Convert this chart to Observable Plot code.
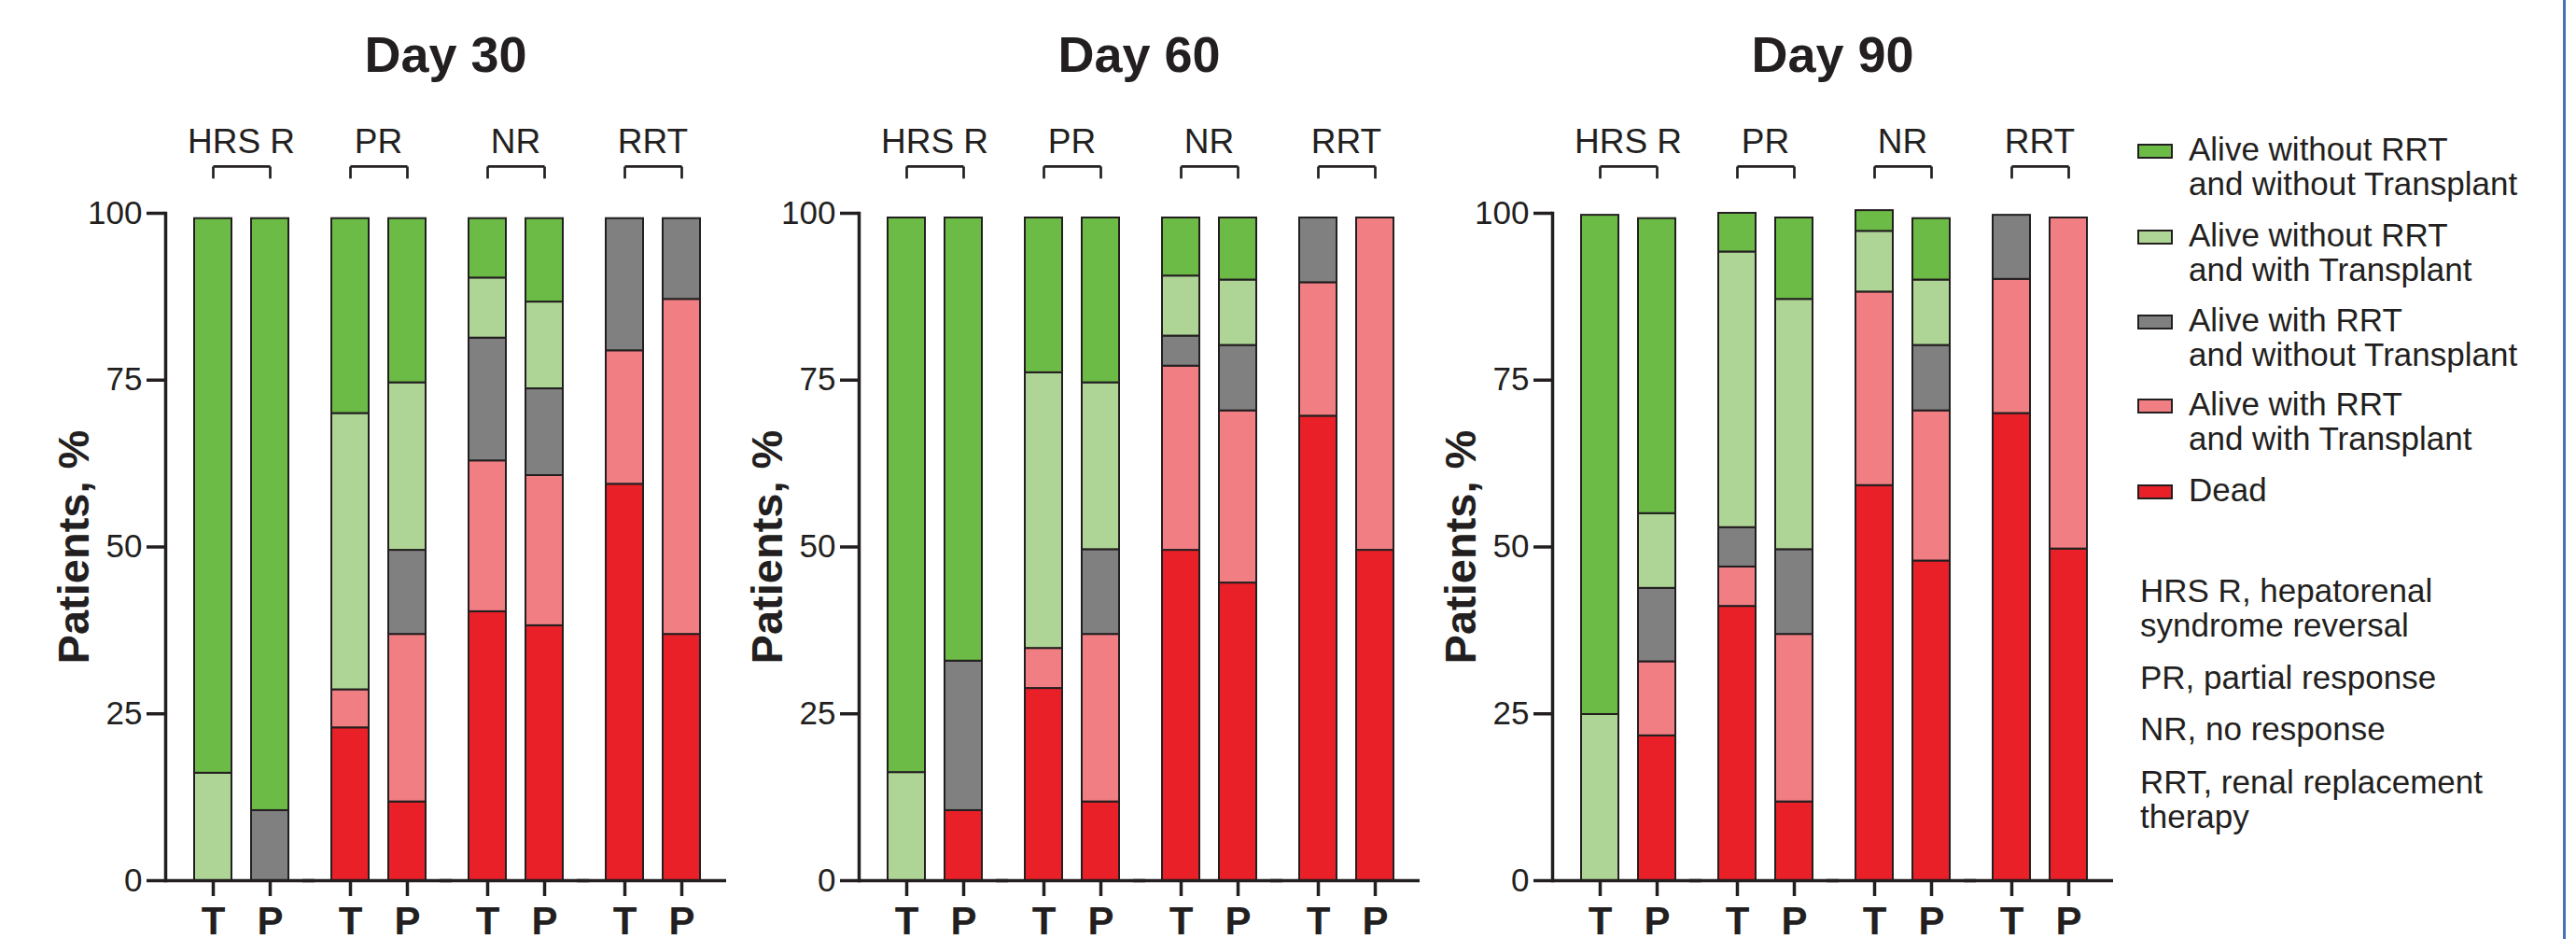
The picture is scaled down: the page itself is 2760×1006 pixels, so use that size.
<!DOCTYPE html>
<html><head><meta charset="utf-8">
<script src="https://cdn.jsdelivr.net/npm/d3@7"></script>
<script src="https://cdn.jsdelivr.net/npm/@observablehq/plot@0.6"></script>
<style>
html,body{margin:0;padding:0;background:#fff;}
body{width:2760px;height:1006px;position:relative;overflow:hidden;font-family:"Liberation Sans",Arial,sans-serif;color:#231f20;}
.panel{position:absolute;top:0;width:780px;}
.title{margin-left:177px;width:601px;height:116px;line-height:116px;font-weight:bold;font-size:54px;text-align:center;}
.panel svg{display:block;overflow:visible;}
[aria-label="y-axis label"] text{font-size:47px;font-weight:bold;}
[aria-label="x-axis tick label"] text{font-weight:bold;}
.lg{position:absolute;font-size:35px;line-height:37px;white-space:nowrap;}
.sw{position:absolute;left:2290px;width:38px;height:16px;box-sizing:border-box;border:2px solid #231f20;}
.note{position:absolute;left:2293px;font-size:35px;line-height:37px;white-space:nowrap;}
.edge{position:absolute;left:2746px;top:0;width:3px;height:1006px;background:#4a72b8;}
</style>
</head><body>
<div id="p30" class="panel" style="left:0px"><div class="title">Day 30</div></div>
<div id="p60" class="panel" style="left:743px"><div class="title">Day 60</div></div>
<div id="p90" class="panel" style="left:1486px"><div class="title">Day 90</div></div>
<div id="legend"></div>
<div class="edge"></div>
<script>
// ---- data ----
const groups = ["HRS R", "PR", "NR", "RRT"];
const arms = ["T", "P"];
// stacking order, bottom to top
const statuses = [
  "Dead",
  "Alive with RRT and with Transplant",
  "Alive with RRT and without Transplant",
  "Alive without RRT and with Transplant",
  "Alive without RRT and without Transplant"
];
const statusColors = ["#e92027", "#f17e83", "#808080", "#afd596", "#6cbb47"];
const legendLines = [
  ["Alive without RRT", "and without Transplant"],
  ["Alive without RRT", "and with Transplant"],
  ["Alive with RRT", "and without Transplant"],
  ["Alive with RRT", "and with Transplant"],
  ["Dead"]
];
const legendStatusIndex = [4, 3, 2, 1, 0];
const notes = [
  ["HRS R, hepatorenal", "syndrome reversal"],
  ["PR, partial response"],
  ["NR, no response"],
  ["RRT, renal replacement", "therapy"]
];
// segment values (% of patients); bar order: HRS R T, HRS R P, PR T, PR P, NR T, NR P, RRT T, RRT P
// rows follow statuses order
const day30 = [
  [0,    0,    22.9, 11.8, 40.3, 38.2, 59.4, 36.9],
  [0,    0,    5.7,  25.1, 22.6, 22.5, 20.0, 50.2],
  [0,    10.5, 0,    12.6, 18.4, 13.0, 19.8, 12.1],
  [16.1, 0,    41.4, 25.1, 9.0,  13.0, 0,    0],
  [83.1, 88.7, 29.2, 24.6, 8.9,  12.5, 0,    0]
];
const day60 = [
  [0,    10.5, 28.8, 11.8, 49.5, 44.6, 69.6, 49.5],
  [0,    0,    6.0,  25.1, 27.6, 25.8, 20.0, 49.8],
  [0,    22.4, 0,    12.7, 4.5,  9.8,  9.7,  0],
  [16.2, 0,    41.3, 25.0, 9.0,  9.8,  0,    0],
  [83.1, 66.4, 23.2, 24.7, 8.7,  9.3,  0,    0]
];
const day90 = [
  [0,    21.7, 41.1, 11.8, 59.2, 47.9, 70.0, 49.7],
  [0,    11.1, 5.9,  25.1, 29.0, 22.5, 20.1, 49.6],
  [0,    11.0, 5.9,  12.7, 0,    9.8,  9.6,  0],
  [24.9, 11.2, 41.3, 37.5, 9.1,  9.8,  0,    0],
  [74.8, 44.2, 5.8,  12.2, 3.1,  9.2,  0,    0]
];

// ---- drawing ----
const ink = "#231f20";
const font = "'Liberation Sans', Arial, sans-serif";
const bracketY = 107;     // bracket bar, just above the 100% line
const bracketEndY = 105.2;

function rowsFor(values) {
  const rows = [];
  groups.forEach((g, gi) => arms.forEach((a, ai) => {
    const bi = gi * 2 + ai;
    statuses.forEach((s, si) => {
      const v = values[si][bi];
      if (v > 0) rows.push({group: g, arm: a, status: s, value: v});
    });
  }));
  return rows;
}

function panel(values) {
  const rows = rowsFor(values);
  const ends = groups.flatMap(g => arms.map(a => ({group: g, arm: a})));
  return Plot.plot({
    width: 780, height: 890,
    marginLeft: 177, marginRight: 15, marginTop: 112, marginBottom: 63,
    style: {background: "transparent", overflow: "visible", fontFamily: font, color: ink},
    fx: {domain: groups, paddingInner: 0, paddingOuter: 0, label: null},
    x: {domain: arms, paddingInner: 0.339, paddingOuter: 0.355, align: 0.67, label: null},
    y: {domain: [0, 100], label: null},
    color: {domain: statuses, range: statusColors},
    marks: [
      Plot.barY(rows, {fx: "group", x: "arm", y: "value", fill: "status", order: statuses, stroke: ink, strokeWidth: 2}),
      Plot.ruleY([0], {stroke: ink, strokeWidth: 3.5, insetRight: -13}),
      Plot.frame({anchor: "left", facetAnchor: "left", stroke: ink, strokeWidth: 3.5}),
      Plot.axisY({ticks: [0, 25, 50, 75, 100], tickSize: 20, tickPadding: 5, fontSize: 35, strokeWidth: 3.5,
        label: "Patients, %", labelAnchor: "center", labelOffset: 116, labelArrow: "none"}),
      Plot.axisX({tickSize: 17, tickPadding: 11, fontSize: 42, fontWeight: "bold", strokeWidth: 3.5, label: null}),
      Plot.axisFx({anchor: "top", tickSize: 0, tickPadding: 65, fontSize: 37, label: null, dx: 7.5}),
      Plot.link(groups, {fx: d => d, x1: () => "T", x2: () => "P", y1: () => bracketY, y2: () => bracketY, stroke: ink, strokeWidth: 2.7}),
      Plot.link(ends, {fx: "group", x1: "arm", x2: "arm", y1: () => bracketY, y2: () => bracketEndY, stroke: ink, strokeWidth: 2.7})
    ]
  });
}

document.getElementById("p30").appendChild(panel(day30));
document.getElementById("p60").appendChild(panel(day60));
document.getElementById("p90").appendChild(panel(day90));

// legend
const legend = document.getElementById("legend");
const entryCenters = [160, 252, 343, 433, 525];
legendLines.forEach((lines, i) => {
  const c = entryCenters[i];
  const sw = document.createElement("div");
  sw.className = "sw";
  sw.style.top = (c - 6) + "px";
  sw.style.background = statusColors[legendStatusIndex[i]];
  legend.appendChild(sw);
  const t = document.createElement("div");
  t.className = "lg";
  t.style.left = "2345px";
  t.style.top = (c - 19) + "px";
  t.innerHTML = lines.join("<br>");
  legend.appendChild(t);
});
const noteTops = [632, 725, 780, 837];
notes.forEach((lines, i) => {
  const t = document.createElement("div");
  t.className = "note";
  t.style.top = (noteTops[i] - 18.5) + "px";
  t.innerHTML = lines.join("<br>");
  legend.appendChild(t);
});
</script>
</body></html>
